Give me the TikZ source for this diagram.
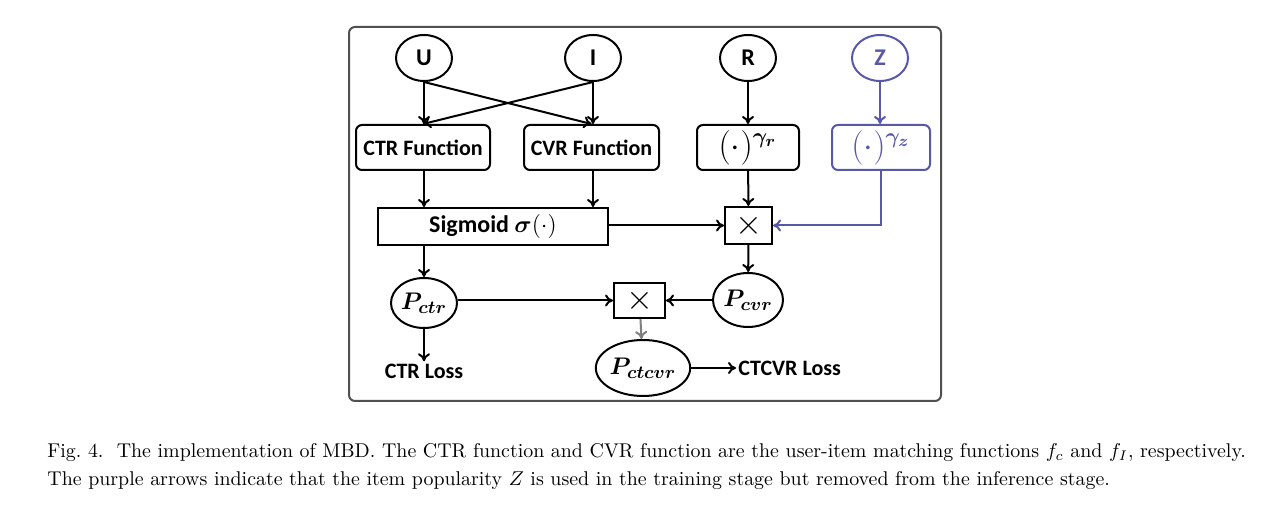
\documentclass[tikz,border=0pt]{standalone}
\usepackage{fontspec}
\usepackage{amsmath,bm}
\newfontfamily\diagfont{Carlito}
\usetikzlibrary{arrows.meta,shapes.geometric}
\definecolor{zpurple}{RGB}{88,88,168}
\definecolor{framegray}{RGB}{80,80,80}
\tikzset{
  conn/.style={line width=1pt, -{To[length=4pt,width=6pt]}},
  varnode/.style={ellipse, draw, line width=1pt, inner sep=0pt,
    minimum width=28pt, minimum height=23pt, font=\diagfont\bfseries\fontsize{12}{14}\selectfont},
  funcbox/.style={rectangle, rounded corners=3pt, draw, line width=1pt, inner sep=0pt,
    minimum height=22.5pt, font=\diagfont\bfseries\fontsize{11}{13}\selectfont},
  mulbox/.style={rectangle, draw, line width=1pt, inner sep=0pt,
    minimum width=23.5pt, minimum height=18.5pt, font=\fontsize{16}{18}\selectfont},
  probnode/.style={ellipse, draw, line width=1pt, inner sep=0pt,
    minimum width=33pt, minimum height=25pt, font=\boldmath\fontsize{13}{15}\selectfont},
  losstext/.style={inner sep=1pt, font=\diagfont\bfseries\fontsize{11}{13}\selectfont},
  captext/.style={anchor=west, inner sep=0pt, font=\fontsize{9.95}{12}\selectfont}
}
\begin{document}
\begin{tikzpicture}[x=0.5pt, y=-0.5pt]
\useasboundingbox (0,0) rectangle (1272,506);

% frame
\draw[framegray][line width=1pt, rounded corners=3pt] (349,27) rectangle (941,401);

% inputs
\node[varnode] (u) at (424,58) {U};
\node[varnode] (i) at (593,58) {I};
\node[varnode] (r) at (748,58) {R};
\node[varnode, draw=zpurple, text=zpurple] (z) at (880,58) {Z};

% functions
\node[funcbox, minimum width=67pt] (ctrf) at (423,147.5) {CTR Function};
\node[funcbox, minimum width=67.5pt] (cvrf) at (591.5,147.5) {CVR Function};
\node[funcbox, minimum width=51pt, font=\fontsize{16}{18}\selectfont] (gr) at (748,147.5) {$(\cdot)^{\bm{\gamma_r}}$};
\node[funcbox, minimum width=49pt, draw=zpurple, text=zpurple, font=\fontsize{16}{18}\selectfont] (gz) at (881,147.5) {$(\cdot)^{\bm{\gamma_z}}$};

% sigmoid and product
\node[funcbox, rounded corners=0pt, minimum width=115pt, minimum height=18.5pt,
  font=\diagfont\bfseries\fontsize{12}{14}\selectfont] (sig) at (493,226.5) {Sigmoid $\bm{\sigma}(\cdot)$};
\node[mulbox] (mulr) at (748.5,225.5) {$\times$};

% probabilities
\node[probnode] (pctr) at (424,303) {$P_{ctr}$};
\node[mulbox, minimum width=25.5pt, minimum height=17.5pt] (mulc) at (639.5,300.5) {$\times$};
\node[probnode, minimum height=27pt] (pcvr) at (748,300) {$P_{cvr}$};
\node[probnode, minimum width=34pt, minimum height=28pt] (pctcvr) at (643,368) {$P_{ctcvr}$};

% losses
\node[losstext] (ctrloss) at (424,371) {CTR Loss};
\node[losstext, anchor=west] (ctcvrloss) at (736,368) {CTCVR Loss};

% connectors
\draw[conn] (u.south) -- (u.south |- ctrf.north);
\draw[conn] (u.south) -- (cvrf.north);
\draw[conn] (i.south) -- (ctrf.north);
\draw[conn] (i.south) -- (i.south |- cvrf.north);
\draw[conn] (r) -- (gr);
\draw[conn, zpurple] (z.south) -- (z.south |- gz.north);
\draw[conn] (u.south |- ctrf.south) -- (u.south |- sig.north);
\draw[conn] (i.south |- cvrf.south) -- (i.south |- sig.north);
\draw[conn] (gr) -- (mulr);
\draw[conn, zpurple] (gz.south) |- (mulr.east);
\draw[conn] (sig.east |- mulr) -- (mulr.west);
\draw[conn] (pctr.north |- sig.south) -- (pctr.north);
\draw[conn] (mulr) -- (pcvr);
\draw[conn] (pctr.east |- mulc) -- (mulc.west);
\draw[conn] (pcvr.west |- mulc) -- (mulc.east);
\draw[conn, gray] (mulc) -- (pctcvr);
\draw[conn] (pctr.south) -- (ctrloss.north);
\draw[conn] (pctcvr.east) -- (ctcvrloss.west);

% caption
\node[captext] (cap1) at (47,453) {Fig.~4.\ \ The implementation of MBD. The CTR function and CVR function are the user-item matching functions $f_c$ and $f_I$, respectively.};
\node[captext] (cap2) at (47,481) {The purple arrows indicate that the item popularity $Z$ is used in the training stage but removed from the inference stage.};
\end{tikzpicture}
\end{document}
